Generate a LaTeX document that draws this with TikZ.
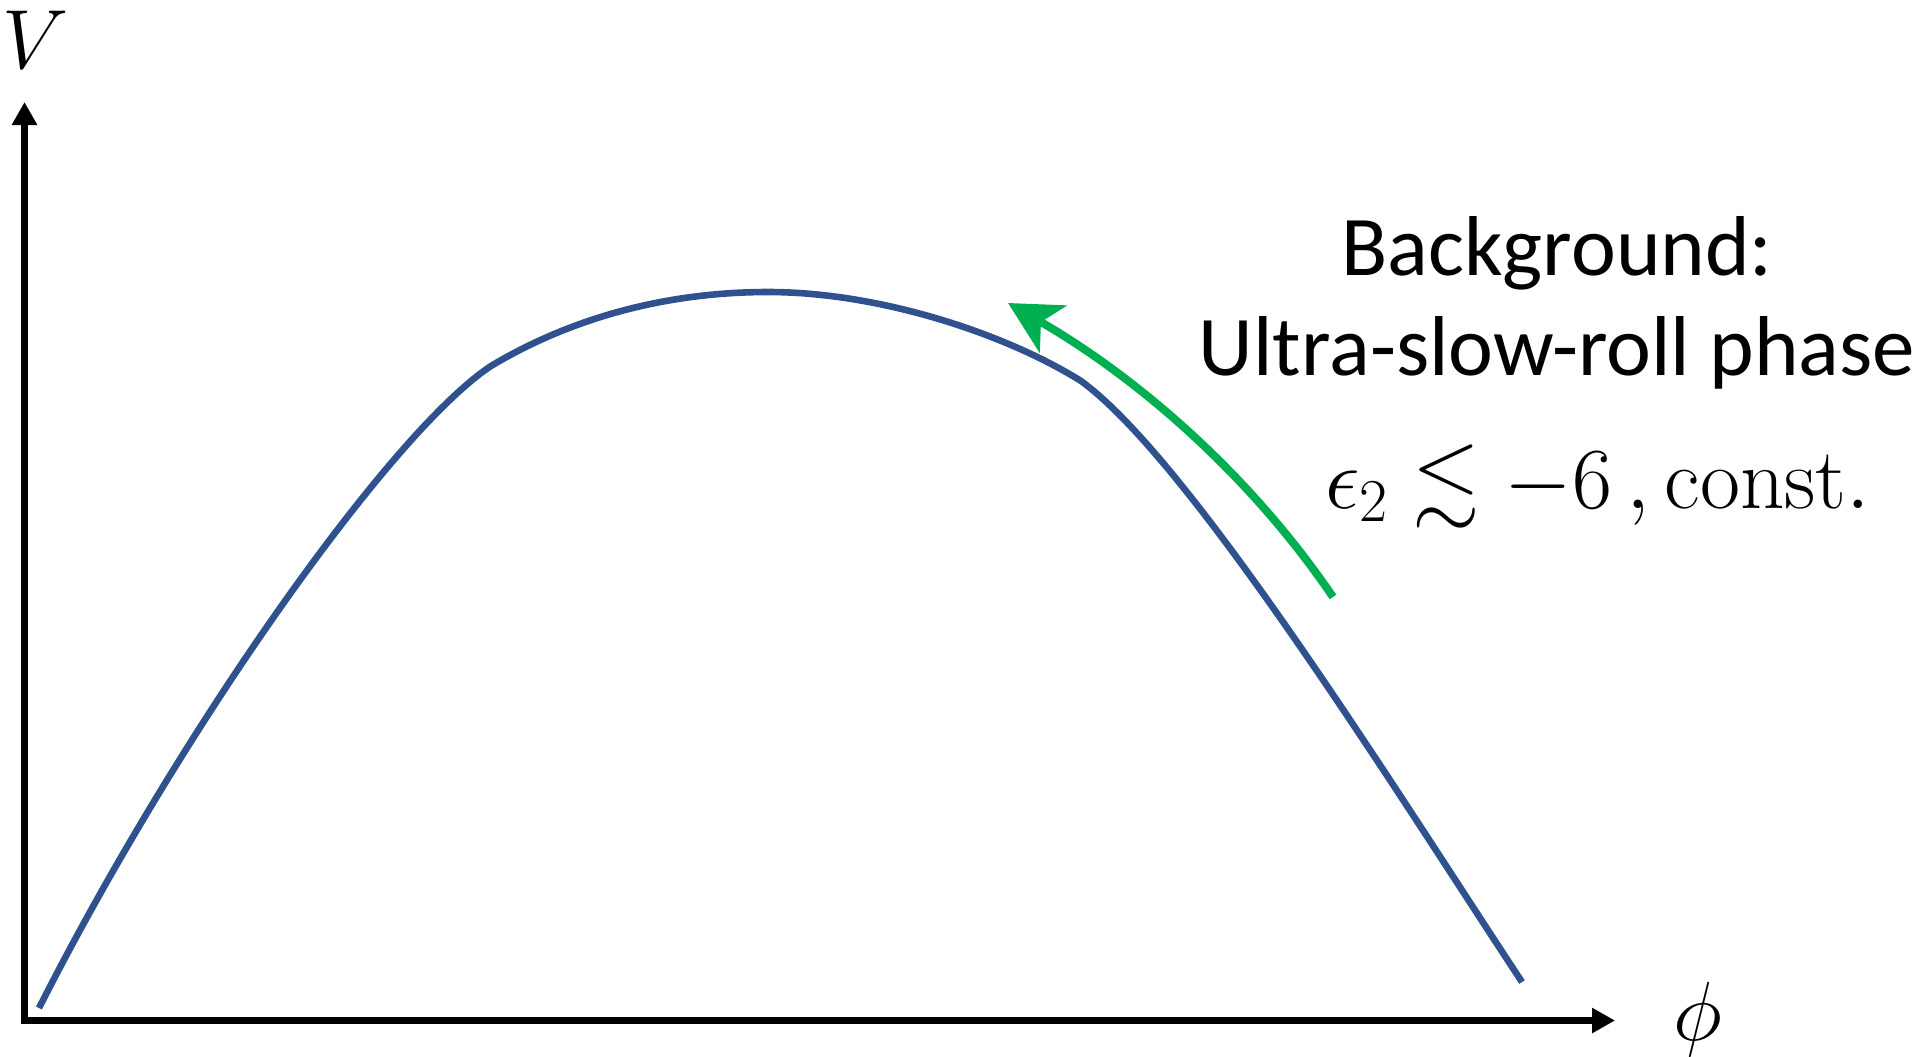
\RequirePackage{fix-cm}
\documentclass[tikz,border=0pt]{standalone}
\usepackage{amssymb}
\usepackage{fontspec}
\newfontfamily\calibri{Carlito}
\usetikzlibrary{arrows.meta}
\definecolor{curveblue}{HTML}{2F528F}
\definecolor{arrowgreen}{HTML}{00B050}
\tikzset{
  axis/.style={line width=3.5pt, black, line cap=rect, -{Triangle[length=11.5pt,width=12pt]}},
  potential/.style={line width=3.3pt, curveblue},
  flow/.style={line width=4pt, arrowgreen, -{Stealth[length=26pt,width=27pt,inset=7pt]}},
  axlabel/.style={inner sep=0pt, anchor=base, font=\fontsize{42pt}{50pt}\selectfont},
  caption/.style={inner sep=0pt, anchor=base, font=\calibri\fontsize{42.5pt}{50pt}\selectfont},
  mathlabel/.style={inner sep=0pt, anchor=base west, font=\fontsize{43.5pt}{52pt}\selectfont}
}
\begin{document}
\begin{tikzpicture}[x=0.5pt, y=-0.5pt]
\useasboundingbox (0,0) rectangle (1926,1056);
% axes
\coordinate (O) at (24.5,1020.5);
\coordinate (ytip) at (24.5,102);
\coordinate (xtip) at (1615,1020.5);
\draw[axis] (O) -- (ytip);
\draw[axis] (O) -- (xtip);
\node[axlabel] (V) at (36,68) {$V$};
\node[axlabel] (phi) at (1698,1040) {$\phi$};
% potential curve
\coordinate (c0) at (39,1008);
\coordinate (c1) at (491,366);
\coordinate (c2) at (768,292);
\coordinate (c3) at (1081,381);
\coordinate (c4) at (1522,982);
\draw[potential] (c0) .. controls (180,730) and (391,432) .. (c1)
  .. controls (566,321) and (660,292) .. (c2)
  .. controls (880,292) and (1006,334) .. (c3)
  .. controls (1191,461) and (1394,788) .. (c4);
% green arrow
\coordinate (gtail) at (1333,597);
\coordinate (ghead) at (1008,303);
\draw[flow] (gtail) .. controls (1255,482) and (1145,382) .. (ghead);
% texts
\node[caption] (bg) at (1557,275) {Background:};
\node[caption] (usr) at (1557,375) {Ultra-slow-roll phase};
\node[mathlabel] (eps) at (1325,508) {$\epsilon_2 \lesssim -6\,,\mathrm{const.}$};
\end{tikzpicture}
\end{document}
